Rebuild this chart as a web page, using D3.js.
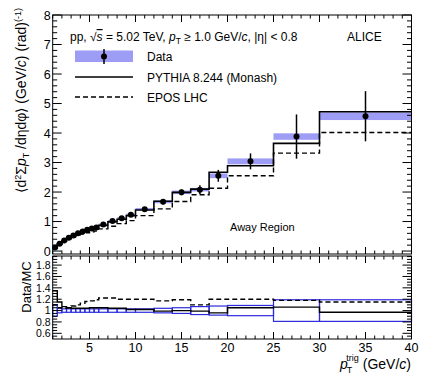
<!DOCTYPE html>
<html>
<head>
<meta charset="utf-8">
<script src="https://cdn.jsdelivr.net/npm/d3@7/dist/d3.min.js"></script>
<style>
  body { margin: 0; background: #fff; }
  svg text { font-family: "Liberation Sans", Arial, sans-serif; fill: #000; }
</style>
</head>
<body>
<div id="chart"></div>
<script>
// bin edges in pT^trig (GeV/c)
const binEdges = [1, 1.5, 2, 2.5, 3, 3.5, 4, 4.5, 5, 5.5, 6, 7, 8, 9, 10, 12, 14, 16, 18, 20, 25, 30, 40];
// data: value, stat error, syst error
const dataVal  = [0.12, 0.25, 0.36, 0.45, 0.53, 0.60, 0.66, 0.72, 0.76, 0.80, 0.90, 1.02, 1.11, 1.23, 1.42, 1.67, 1.99, 2.08, 2.55, 3.04, 3.88, 4.57];
const dataStat = [0.01, 0.01, 0.01, 0.01, 0.01, 0.01, 0.01, 0.02, 0.02, 0.02, 0.03, 0.03, 0.04, 0.05, 0.06, 0.08, 0.1, 0.15, 0.2, 0.27, 0.75, 0.85];
const dataSyst = [0.01, 0.01, 0.01, 0.01, 0.02, 0.02, 0.02, 0.02, 0.02, 0.03, 0.03, 0.03, 0.04, 0.04, 0.04, 0.05, 0.06, 0.06, 0.08, 0.1, 0.11, 0.13];
// MC predictions
const pythiaVal = [0.10, 0.23, 0.34, 0.43, 0.51, 0.58, 0.64, 0.70, 0.74, 0.78, 0.87, 0.99, 1.08, 1.20, 1.39, 1.69, 1.99, 2.10, 2.67, 2.89, 3.65, 4.72];
const eposVal   = [0.11, 0.24, 0.34, 0.42, 0.48, 0.53, 0.58, 0.62, 0.65, 0.68, 0.75, 0.84, 0.93, 1.03, 1.20, 1.43, 1.68, 1.91, 2.13, 2.55, 3.32, 4.02];
// ratio panel (Data/MC)
const ratioPythia = [1.35, 1.15, 1.07, 1.05, 1.04, 1.04, 1.04, 1.04, 1.05, 1.05, 1.05, 1.04, 1.04, 1.02, 1.02, 0.99, 1.0, 0.99, 0.96, 1.05, 1.06, 0.97];
const ratioEpos   = [1.1, 1.05, 1.04, 1.05, 1.08, 1.1, 1.13, 1.16, 1.17, 1.19, 1.22, 1.22, 1.2, 1.2, 1.2, 1.17, 1.19, 1.1, 1.2, 1.2, 1.18, 1.15];
const ratioUnc    = [0.1, 0.04, 0.03, 0.03, 0.03, 0.03, 0.03, 0.03, 0.03, 0.03, 0.03, 0.03, 0.03, 0.03, 0.03, 0.04, 0.05, 0.07, 0.08, 0.09, 0.19, 0.19];

const xTicks = [5, 10, 15, 20, 25, 30, 35, 40];
const ratioTicks = [0.6, 0.8, 1, 1.2, 1.4, 1.6, 1.8];

const width = 431, height = 376;
const svg = d3.select("#chart").append("svg")
  .attr("width", width).attr("height", height);
svg.append("rect").attr("width", width).attr("height", height).attr("fill", "#fff");

const left = 52.7, right = 411.5;
const x = d3.scaleLinear().domain([1, 40]).range([left, right]);
const yTop = d3.scaleLinear().domain([-0.1, 8]).range([254, 15]);
const yBot = d3.scaleLinear().domain([0.5, 1.96]).range([339, 256]);

const bins = dataVal.map((v, i) => ({
  lo: binEdges[i], hi: binEdges[i + 1], c: (binEdges[i] + binEdges[i + 1]) / 2,
  v, stat: dataStat[i], syst: dataSyst[i],
  py: pythiaVal[i], ep: eposVal[i],
  rp: ratioPythia[i], re: ratioEpos[i], ru: ratioUnc[i]
}));

// step path for histogram
function stepPath(key, y) {
  let p = "";
  bins.forEach((b, i) => {
    p += (i === 0 ? "M" : "L") + x(b.lo) + "," + y(b[key]) + "L" + x(b.hi) + "," + y(b[key]);
  });
  return p;
}

// frame with ticks on all sides (ROOT style)
function frame(y, top, bottom, yMajor, yMinor, fs, xLabels) {
  const g = svg.append("g");
  g.append("rect").attr("x", left).attr("y", top).attr("width", right - left).attr("height", bottom - top)
    .attr("fill", "none").attr("stroke", "#000").attr("stroke-width", 1);
  // x ticks
  d3.range(1, 41).forEach(t => {
    const major = t % 5 === 0;
    const len = major ? 7 : 3.5;
    g.append("line").attr("x1", x(t)).attr("x2", x(t)).attr("y1", bottom).attr("y2", bottom - len).attr("stroke", "#000");
    g.append("line").attr("x1", x(t)).attr("x2", x(t)).attr("y1", top).attr("y2", top + len).attr("stroke", "#000");
  });
  yMinor.forEach(t => {
    const major = yMajor.some(m => Math.abs(m - t) < 1e-6);
    const len = major ? 9 : 4.5;
    g.append("line").attr("x1", left).attr("x2", left + len).attr("y1", y(t)).attr("y2", y(t)).attr("stroke", "#000");
    g.append("line").attr("x1", right).attr("x2", right - len).attr("y1", y(t)).attr("y2", y(t)).attr("stroke", "#000");
  });
  g.selectAll(null).data(yMajor).enter().append("text")
    .attr("x", left - 2).attr("y", d => y(d) + fs * 0.36).attr("text-anchor", "end")
    .attr("font-size", fs).text(d => d3.format("~g")(d));
  if (xLabels) {
    g.selectAll(null).data(xTicks).enter().append("text")
      .attr("x", d => x(d)).attr("y", bottom + 13).attr("text-anchor", "middle")
      .attr("font-size", 12.5).text(d => d);
  }
}

// ---- top pad ----
const topG = svg.append("g");
// systematic boxes
topG.selectAll(null).data(bins).enter().append("rect")
  .attr("x", d => x(d.lo)).attr("width", d => x(d.hi) - x(d.lo))
  .attr("y", d => yTop(d.v + d.syst)).attr("height", d => Math.max(1, yTop(d.v - d.syst) - yTop(d.v + d.syst)))
  .attr("fill", "#9d9df5");
topG.append("path").attr("d", stepPath("py", yTop)).attr("fill", "none").attr("stroke", "#000").attr("stroke-width", 1.6);
topG.append("path").attr("d", stepPath("ep", yTop)).attr("fill", "none").attr("stroke", "#000")
  .attr("stroke-width", 1.4).attr("stroke-dasharray", "5,3");
// stat error bars
topG.selectAll(null).data(bins).enter().append("line")
  .attr("x1", d => x(d.c)).attr("x2", d => x(d.c))
  .attr("y1", d => yTop(d.v - d.stat)).attr("y2", d => yTop(d.v + d.stat))
  .attr("stroke", "#000").attr("stroke-width", 1.5);
topG.selectAll(null).data(bins).enter().append("circle")
  .attr("cx", d => x(d.c)).attr("cy", d => yTop(d.v)).attr("r", 3).attr("fill", "#000");

frame(yTop, 15, 254, d3.range(0, 9), d3.range(0, 8.01, 0.2).map(v => +v.toFixed(2)), 12.5, false);

// texts
const t1 = svg.append("text").attr("x", 70).attr("y", 41).attr("font-size", 12);
t1.append("tspan").text("pp, ");
t1.append("tspan").text("√");
t1.append("tspan").attr("font-style", "italic").attr("text-decoration", "overline").text("s");
t1.append("tspan").text(" = 5.02 TeV, ");
t1.append("tspan").attr("font-style", "italic").text("p");
t1.append("tspan").attr("font-size", 8.5).attr("dy", 3).text("T");
t1.append("tspan").attr("dy", -3).text(" ≥ 1.0 GeV/");
t1.append("tspan").attr("font-style", "italic").text("c");
t1.append("tspan").text(", |η| < 0.8");
svg.append("text").attr("x", 347).attr("y", 41).attr("font-size", 12).text("ALICE");

// legend
svg.append("rect").attr("x", 75).attr("y", 50.5).attr("width", 58).attr("height", 11.5).attr("fill", "#9d9df5");
svg.append("line").attr("x1", 104).attr("x2", 104).attr("y1", 49).attr("y2", 64).attr("stroke", "#000").attr("stroke-width", 1.5);
svg.append("circle").attr("cx", 104).attr("cy", 56.5).attr("r", 3).attr("fill", "#000");
svg.append("text").attr("x", 147).attr("y", 61).attr("font-size", 12).text("Data");
svg.append("line").attr("x1", 75).attr("x2", 133).attr("y1", 77).attr("y2", 77).attr("stroke", "#000").attr("stroke-width", 1.6);
svg.append("text").attr("x", 147).attr("y", 81.5).attr("font-size", 12).text("PYTHIA 8.244 (Monash)");
svg.append("line").attr("x1", 75).attr("x2", 133).attr("y1", 97).attr("y2", 97).attr("stroke", "#000")
  .attr("stroke-width", 1.4).attr("stroke-dasharray", "5,3");
svg.append("text").attr("x", 147).attr("y", 101.5).attr("font-size", 12).text("EPOS LHC");
svg.append("text").attr("x", 230).attr("y", 231).attr("font-size", 11).text("Away Region");

// y title
const yt = svg.append("text").attr("transform", "translate(26,8) rotate(-90)")
  .attr("text-anchor", "end").attr("font-size", 14);
yt.append("tspan").text("⟨d");
yt.append("tspan").attr("font-size", 9).attr("dy", -5).text("2");
yt.append("tspan").attr("dy", 5).text("Σ");
yt.append("tspan").attr("font-style", "italic").text("p");
yt.append("tspan").attr("font-size", 9).attr("dy", 3).text("T");
yt.append("tspan").attr("dy", -3).text(" /dηdφ⟩ (GeV/");
yt.append("tspan").attr("font-style", "italic").text("c");
yt.append("tspan").text(") (rad)");
yt.append("tspan").attr("font-size", 9).attr("dy", -5).text("(-1)");

// ---- bottom pad ----
const botG = svg.append("g");
botG.selectAll(null).data(bins).enter().append("rect")
  .attr("x", d => x(d.lo)).attr("width", d => x(d.hi) - x(d.lo))
  .attr("y", d => yBot(1 + d.ru)).attr("height", d => yBot(1 - d.ru) - yBot(1 + d.ru))
  .attr("fill", "none").attr("stroke", "#2b2bdc").attr("stroke-width", 1.2);
botG.append("path").attr("d", stepPath("rp", yBot)).attr("fill", "none").attr("stroke", "#000").attr("stroke-width", 1.4);
botG.append("path").attr("d", stepPath("re", yBot)).attr("fill", "none").attr("stroke", "#000")
  .attr("stroke-width", 1.4).attr("stroke-dasharray", "5,3");

frame(yBot, 256, 339, ratioTicks, d3.range(0.55, 1.96, 0.05).map(v => +v.toFixed(2)), 10.5, true);

svg.append("text").attr("transform", "translate(31,287) rotate(-90)")
  .attr("text-anchor", "middle").attr("font-size", 13).text("Data/MC");

const xt = svg.append("text").attr("x", 411).attr("y", 369).attr("text-anchor", "end").attr("font-size", 14);
xt.append("tspan").attr("font-style", "italic").text("p");
xt.append("tspan").attr("font-size", 9).attr("dy", 4).attr("dx", -1).text("T");
xt.append("tspan").attr("font-size", 9).attr("dy", -12).attr("dx", -6).text("trig");
xt.append("tspan").attr("dy", 8).text(" (GeV/");
xt.append("tspan").attr("font-style", "italic").text("c");
xt.append("tspan").text(")");
</script>
</body>
</html>
